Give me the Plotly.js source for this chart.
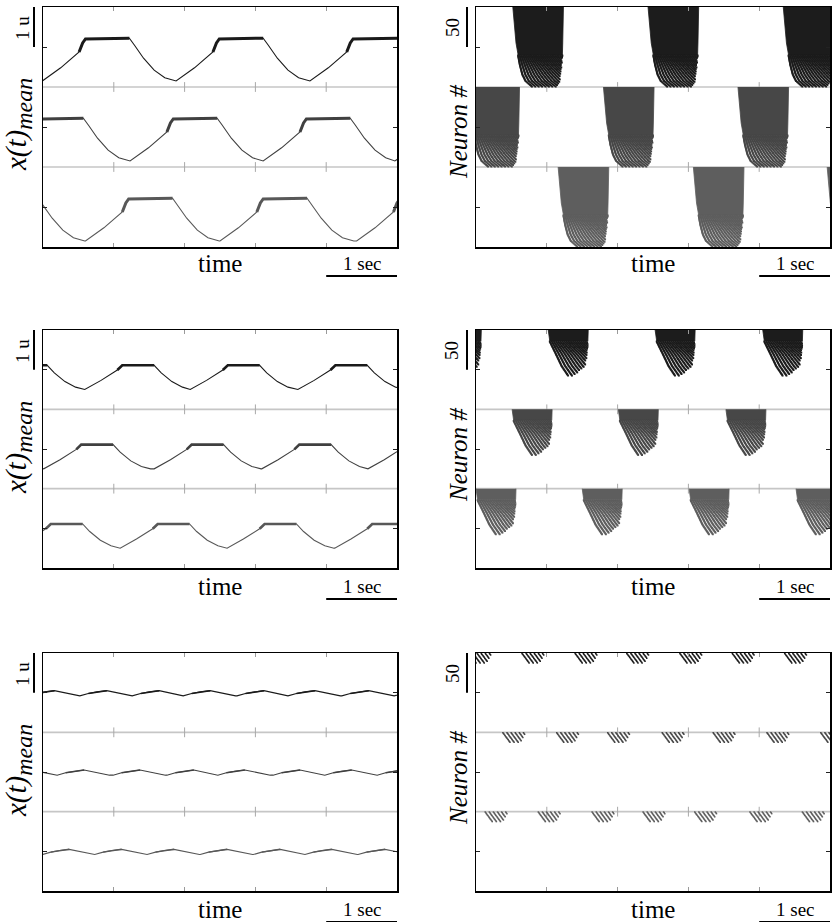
<!DOCTYPE html>
<html><head><meta charset="utf-8">
<script src="https://cdn.plot.ly/plotly-3.0.1.min.js"></script>
<style>html,body{margin:0;padding:0;background:#fff}</style>
</head><body><div id="chart" style="width:837px;height:922px"></div>
<script>
// ================= DATA =================
const timeTicks = [1, 2, 3, 4];            // s
const unitTicks = [1, 3, 5];               // middle of each stacked trace (u)
const neuronTicks = [50, 150, 250];        // middle of each stacked raster
const dividersLeft = [2, 4];
const dividersRight = [100, 200];

// mean activity: one cycle template per row (time after the minimum [s], value [u])
const cycT1 = [0, 0.26, 0.52, 0.57, 0.61, 1.23, 1.30, 1.43, 1.58, 1.73, 1.89];
const cycV1 = [0.15, 0.48, 0.875, 1.10, 1.20, 1.22, 1.05, 0.72, 0.42, 0.23, 0.15];
const cycT2 = [0, 0.23, 0.46, 0.53, 0.98, 1.08, 1.23, 1.38, 1.51];
const cycV2 = [0.50, 0.73, 0.99, 1.11, 1.11, 0.92, 0.70, 0.56, 0.50];
const cycT3 = [0, 0.12, 0.24, 0.38, 0.74];
const cycV3 = [0.92, 0.98, 1.02, 1.05, 0.92];
// index range of the noisy plateau in each template
const plateau1 = [2, 5], plateau2 = [2, 4], plateau3 = [1, 3];

// times of the minima of each trace (top, middle, bottom) per row
const minsRow1 = [[-0.01, 1.88, 3.77], [-0.66, 1.23, 3.11, 4.97], [-1.30, 0.60, 2.50, 4.43]];
const minsRow2 = [[-0.92, 0.59, 2.08, 3.60, 5.11], [-1.51, 0.01, 1.57, 3.09, 4.59], [-0.42, 1.09, 2.60, 4.12]];
const minsRow3 = [[-0.22, 0.52, 1.26, 1.98, 2.74, 3.46, 4.22, 4.96], [-0.55, 0.20, 0.99, 1.75, 2.47, 3.25, 3.98, 4.72], [-0.01, 0.73, 1.47, 2.22, 2.97, 3.70, 4.45]];

// rasters: burst onsets (s) per stacked group
const onsetsRow1 = [[0.52, 2.43, 4.34], [-0.10, 1.80, 3.70], [1.16, 3.07, 4.96]];
const onsetsRow2 = [[-0.49, 1.02, 2.53, 4.05], [0.51, 2.01, 3.53], [0.00, 1.50, 3.01, 4.52]];
const onsetsRow3 = [[-0.10, 0.65, 1.40, 2.13, 2.88, 3.62, 4.36], [0.38, 1.14, 1.86, 2.63, 3.35, 4.11, 4.87], [0.13, 0.88, 1.64, 2.36, 3.09, 3.87, 4.61]];
// dense part outline (neuron counted from group top, delay after onset s)
const denseN1 = [0, 25, 45, 60, 60, 45, 25, 0];
const denseD1 = [0, 0.02, 0.045, 0.075, 0.70, 0.705, 0.71, 0.715];
const denseN2 = [0, 14, 14, 0];
const denseD2 = [0, 0.022, 0.56, 0.565];
// sparse tail: neuron, first spike delay, last spike delay, inter-spike interval
const tailN1 = [60, 72, 84, 92, 99];
const tailS1 = [0.075, 0.10, 0.135, 0.18, 0.27];
const tailE1 = [0.70, 0.69, 0.675, 0.66, 0.63];
const tailI1 = [0.024, 0.034, 0.042, 0.046, 0.048];
const tailN2 = [14, 30, 45, 57];
const tailS2 = [0.022, 0.11, 0.19, 0.28];
const tailE2 = [0.56, 0.55, 0.52, 0.36];
const tailI2 = [0.03, 0.042, 0.05, 0.055];
const tailN3 = [0, 12];
const tailS3 = [0.0, 0.10];
const tailE3 = [0.33, 0.25];
const tailI3 = [0.058, 0.058];

// ================= STYLE / LAYOUT =================
const W = 837, H = 922;
const FONT = 'Liberation Serif';
const traceColors = ['#1a1a1a', '#404040', '#585858'];
const rasterColors = ['#1c1c1c', '#474747', '#5e5e5e'];
const plateauWidth = [3.0, 2.6, 1.5];
const rowTops = [7, 330, 653];
const rowBots = [247, 568, 891];
const leftX = [43, 397], rightX = [476, 830];
const pxX = x => x / W, pxY = y => 1 - y / H;

function interp(xs, ys, x) {
  if (x <= xs[0]) return ys[0];
  for (let i = 1; i < xs.length; i++) {
    if (x <= xs[i]) { const f = (x - xs[i - 1]) / (xs[i] - xs[i - 1]); return ys[i - 1] + f * (ys[i] - ys[i - 1]); }
  }
  return ys[ys.length - 1];
}
function cycleLine(mins, T, V, off) {
  const x = [], y = [];
  mins.forEach((m, k) => {
    const next = k + 1 < mins.length ? mins[k + 1] : Infinity;
    T.forEach((t, i) => { if (m + t < next || i === 0) { x.push(m + t); y.push(V[i] + off); } });
  });
  return {x, y};
}
function plateauLine(mins, T, V, range, off) {
  const x = [], y = [];
  mins.forEach(m => {
    for (let i = range[0]; i <= range[1]; i++) { x.push(m + T[i]); y.push(V[i] + off); }
    x.push(null); y.push(null);
  });
  return {x, y};
}
function densePoly(onsets, N, D, top) {
  const x = [], y = [];
  if (!N) return {x, y};
  onsets.forEach(o => { N.forEach((n, i) => { x.push(o + D[i]); y.push(top - N[i]); }); x.push(null); y.push(null); });
  return {x, y};
}
function spikes(onsets, N, S, E, I, top) {
  const x = [], y = [];
  onsets.forEach(o => {
    for (let n = N[0]; n <= N[N.length - 1]; n++) {
      const s = interp(N, S, n), e = interp(N, E, n), isi = interp(N, I, n);
      for (let k = 0; s + k * isi <= e; k++) { x.push(o + s + k * isi); y.push(top - n - 0.5); }
    }
  });
  return {x, y};
}

const rows = [
  {mins: minsRow1, T: cycT1, V: cycV1, plat: plateau1, onsets: onsetsRow1, dN: denseN1, dD: denseD1, tN: tailN1, tS: tailS1, tE: tailE1, tI: tailI1},
  {mins: minsRow2, T: cycT2, V: cycV2, plat: plateau2, onsets: onsetsRow2, dN: denseN2, dD: denseD2, tN: tailN2, tS: tailS2, tE: tailE2, tI: tailI2},
  {mins: minsRow3, T: cycT3, V: cycV3, plat: plateau3, onsets: onsetsRow3, dN: null, dD: null, tN: tailN3, tS: tailS3, tE: tailE3, tI: tailI3}
];

const data = [], shapes = [], annotations = [];
const layout = {
  width: W, height: H, margin: {l: 0, r: 0, t: 0, b: 0},
  paper_bgcolor: '#fff', plot_bgcolor: '#fff', showlegend: false,
  font: {family: FONT, color: '#000'}
};
function axisX(dom, anchor) {
  return {domain: dom, anchor, range: [0, 5], tickvals: timeTicks, ticks: 'inside', ticklen: 4, tickwidth: 1,
    tickcolor: '#9a9a9a', showticklabels: false, showline: true, mirror: 'ticks', linecolor: '#000', linewidth: 1.5,
    showgrid: false, zeroline: false, fixedrange: true};
}
function axisY(dom, anchor, range, ticks) {
  return {domain: dom, anchor, range, tickvals: ticks, ticks: 'inside', ticklen: 4, tickwidth: 1,
    tickcolor: '#222', showticklabels: false, showline: true, mirror: 'ticks', linecolor: '#000', linewidth: 1.5,
    showgrid: false, zeroline: false, fixedrange: true};
}

rows.forEach((r, ri) => {
  const yDom = [pxY(rowBots[ri]), pxY(rowTops[ri])];
  const li = 2 * ri + 1, rj = 2 * ri + 2;
  const lx = li === 1 ? 'x' : 'x' + li, ly = li === 1 ? 'y' : 'y' + li;
  const rx = 'x' + rj, ry = 'y' + rj;
  layout[li === 1 ? 'xaxis' : 'xaxis' + li] = axisX([pxX(leftX[0]), pxX(leftX[1])], ly);
  layout[li === 1 ? 'yaxis' : 'yaxis' + li] = axisY(yDom, lx, [0, 6], unitTicks);
  layout['xaxis' + rj] = axisX([pxX(rightX[0]), pxX(rightX[1])], ry);
  layout['yaxis' + rj] = axisY(yDom, rx, [0, 300], neuronTicks);

  // dividers between stacked groups
  dividersLeft.forEach(v => shapes.push({type: 'line', xref: lx, yref: ly, x0: 0, x1: 5, y0: v, y1: v, layer: 'below', line: {color: '#c6c6c6', width: 1.6}}));
  dividersRight.forEach(v => shapes.push({type: 'line', xref: rx, yref: ry, x0: 0, x1: 5, y0: v, y1: v, layer: 'below', line: {color: '#c6c6c6', width: 1.6}}));
  // small time ticks on the dividers
  [[lx, ly, dividersLeft], [rx, ry, dividersRight]].forEach(([ax, ay, dv]) => {
    const tx = [], ty = [];
    dv.forEach(v => timeTicks.forEach(t => { tx.push(t); ty.push(v); }));
    data.push({type: 'scatter', mode: 'markers', xaxis: ax, yaxis: ay, x: tx, y: ty, hoverinfo: 'skip',
      marker: {symbol: 'line-ns', size: 7, line: {width: 1, color: '#a8a8a8'}}});
  });

  // mean activity traces
  r.mins.forEach((m, k) => {
    const off = 4 - 2 * k;
    const c = cycleLine(m, r.T, r.V, off);
    data.push({type: 'scatter', mode: 'lines', xaxis: lx, yaxis: ly, x: c.x, y: c.y, hoverinfo: 'skip',
      line: {color: traceColors[k], width: 1.1}});
    const p = plateauLine(m, r.T, r.V, r.plat, off);
    data.push({type: 'scatter', mode: 'lines', xaxis: lx, yaxis: ly, x: p.x, y: p.y, hoverinfo: 'skip', connectgaps: false,
      line: {color: traceColors[k], width: plateauWidth[ri]}});
  });

  // rasters
  r.onsets.forEach((ons, k) => {
    const top = 300 - 100 * k;
    const d = densePoly(ons, r.dN, r.dD, top);
    if (d.x.length) data.push({type: 'scatter', mode: 'lines', xaxis: rx, yaxis: ry, x: d.x, y: d.y, fill: 'toself',
      fillcolor: rasterColors[k], hoverinfo: 'skip', line: {color: rasterColors[k], width: 0.8}});
    const s = spikes(ons, r.tN, r.tS, r.tE, r.tI, top);
    data.push({type: 'scatter', mode: 'markers', xaxis: rx, yaxis: ry, x: s.x, y: s.y, hoverinfo: 'skip',
      marker: {symbol: 'square', size: ri === 2 ? 1.5 : 1.9, color: rasterColors[k], line: {width: 0}}});
  });

  // scale bars
  shapes.push({type: 'line', xref: lx, yref: 'paper', x0: 4, x1: 5, y0: pxY(rowTops[ri] + 269), y1: pxY(rowTops[ri] + 269), line: {color: '#000', width: 2}});
  shapes.push({type: 'line', xref: rx, yref: 'paper', x0: 4, x1: 5, y0: pxY(rowTops[ri] + 269), y1: pxY(rowTops[ri] + 269), line: {color: '#000', width: 2}});
  shapes.push({type: 'line', xref: 'paper', yref: ly, x0: pxX(34), x1: pxX(34), y0: 6, y1: 5, line: {color: '#000', width: 2}});
  shapes.push({type: 'line', xref: 'paper', yref: ry, x0: pxX(467), x1: pxX(467), y0: 300, y1: 250, line: {color: '#000', width: 2}});

  // texts
  const t0 = rowTops[ri];
  const ann = (x, y, text, size, angle, style) => annotations.push({xref: 'paper', yref: 'paper', x: pxX(x), y: pxY(y),
    text, showarrow: false, xanchor: 'center', yanchor: 'middle', textangle: angle || 0,
    font: {family: FONT, size, color: '#000', style: style || 'normal'}});
  ann(220, t0 + 256, 'time', 25);
  ann(653, t0 + 256, 'time', 25);
  ann(362, t0 + 256, '1 sec', 19);
  ann(795, t0 + 256, '1 sec', 19);
  ann(22, t0 + 21, '1 u', 19, -90);
  ann(452, t0 + 20, '50', 19, -90);
  ann(18, t0 + 118, 'x(t)<sub><span style="font-size:24px">mean</span></sub>', 29, -90, 'italic');
  ann(458, t0 + 125, 'Neuron #', 25, -90, 'italic');
});

layout.shapes = shapes;
layout.annotations = annotations;
Plotly.newPlot('chart', data, layout, {staticPlot: true, displayModeBar: false});
</script></body></html>
